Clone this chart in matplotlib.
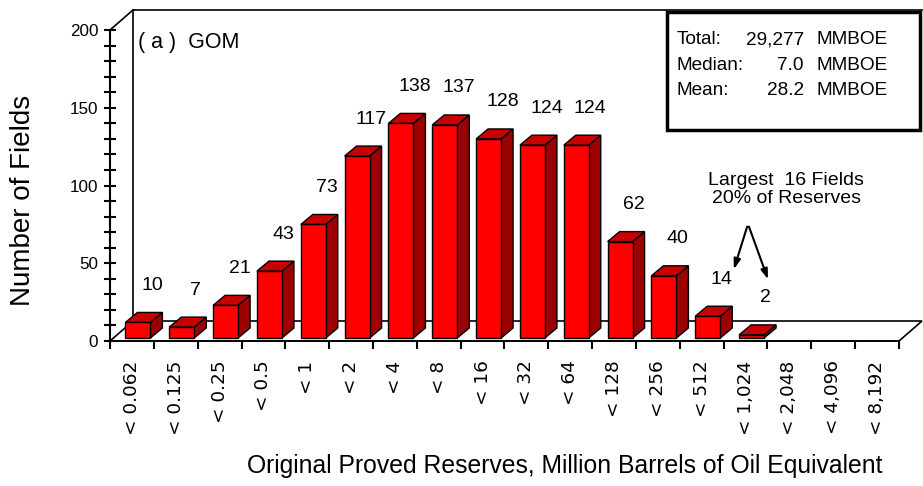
import matplotlib.pyplot as plt
from matplotlib.patches import Polygon, Rectangle

plt.rcParams['font.family'] = ['Liberation Sans', 'DejaVu Sans']

# Field size classes (upper bound, MMBOE) and number of fields in each
size_classes = ["< 0.062", "< 0.125", "< 0.25", "< 0.5", "< 1", "< 2", "< 4", "< 8",
                "< 16", "< 32", "< 64", "< 128", "< 256", "< 512", "< 1,024",
                "< 2,048", "< 4,096", "< 8,192"]
field_counts = [10, 7, 21, 43, 73, 117, 138, 137, 128, 124, 124, 62, 40, 14, 2, 0, 0, 0]

stats_names = ["Total:", "Median:", "Mean:"]
stats_values = ["29,277", "7.0", "28.2"]

W, H = 923, 486
fig = plt.figure(figsize=(W / 100, H / 100), dpi=100)
ax = fig.add_axes([110 / W, (H - 341) / H, 789 / W, 311 / H])
ncat = len(size_classes)
ax.set_xlim(0, ncat)
ax.set_ylim(0, 200)

# pixel -> data unit helpers for the fake 3-D depth
px_x = ncat / 789
px_y = 200 / 311

# floor and back wall
FX, FY = 23 * px_x, 20 * px_y
floor = Polygon([(0, 0), (ncat, 0), (ncat + FX, FY), (FX, FY)], closed=True,
                facecolor='white', edgecolor='black', lw=1.2, clip_on=False, zorder=1)
ax.add_patch(floor)
ax.plot([FX, FX], [FY, 200 + FY], color='black', lw=1.2, clip_on=False, zorder=1)
ax.plot([FX, ncat + FX], [200 + FY, 200 + FY], color='black', lw=1.2, clip_on=False, zorder=1)
ax.plot([0, FX], [200, 200 + FY], color='black', lw=1.2, clip_on=False, zorder=1)

# 3-D bars
bw = 25 * px_x
ox, oy = 6 * px_x, 3 * px_y
dx, dy = 12 * px_x, 10 * px_y
for k, v in enumerate(field_counts):
    if v == 0:
        continue
    x0 = k + 0.5 - bw / 2 + ox
    y0 = oy
    top = y0 + v
    front = Polygon([(x0, y0), (x0 + bw, y0), (x0 + bw, top), (x0, top)],
                    facecolor='#ff0000', edgecolor='black', lw=1.0, clip_on=False, zorder=3)
    side = Polygon([(x0 + bw, y0), (x0 + bw + dx, y0 + dy), (x0 + bw + dx, top + dy), (x0 + bw, top)],
                   facecolor='#9c0000', edgecolor='black', lw=1.0, clip_on=False, zorder=3)
    lid = Polygon([(x0, top), (x0 + bw, top), (x0 + bw + dx, top + dy), (x0 + dx, top + dy)],
                  facecolor='#c80000', edgecolor='black', lw=1.0, clip_on=False, zorder=3)
    for p in (side, lid, front):
        ax.add_patch(p)
    ax.text(x0 + bw / 2 + 14 * px_x, top + 37 * px_y, str(v), ha='center', va='center',
            fontsize=14, zorder=4)

# axes styling
for s in ('top', 'right'):
    ax.spines[s].set_visible(False)
ax.spines['left'].set_linewidth(1.5)
ax.spines['bottom'].set_linewidth(1.2)
ax.set_yticks(range(0, 201, 50))
ax.set_yticks(range(0, 201, 10), minor=True)
ax.tick_params(axis='y', which='both', direction='inout', length=9, width=1.5,
               labelsize=12.3, pad=4)
ax.set_xticks(range(ncat + 1))
ax.set_xticklabels([])
ax.set_xticks([k + 0.5 for k in range(ncat)], minor=True)
ax.set_xticklabels(size_classes, minor=True, rotation=90, fontsize=13.3, va='top',
                   family='DejaVu Sans')
ax.tick_params(axis='x', which='major', direction='out', length=6, width=1.5)
ax.tick_params(axis='x', which='minor', length=0, pad=14)
ax.patch.set_visible(False)

# panel tag
ax.text(0.64, (341 - 42) * px_y, "( a )  GOM", fontsize=15.5, ha='left', va='center')

# summary box
box = Rectangle((12.71, 135.7), 5.77, 75.8, facecolor='white', edgecolor='black',
                lw=2.5, clip_on=False, zorder=5)
ax.add_patch(box)
for i, (name, val) in enumerate(zip(stats_names, stats_values)):
    yy = (341 - 39.5 - i * 25.7) * px_y
    ax.text((677 - 110) * px_x, yy, name, fontsize=13.7, ha='left', va='center', zorder=6)
    ax.text((804 - 110) * px_x, yy, val, fontsize=13.7, ha='right', va='center', zorder=6)
    ax.text((817 - 110) * px_x, yy, "MMBOE", fontsize=13.7, ha='left', va='center', zorder=6)

# largest fields note
ax.text((786 - 110) * px_x, (341 - 189.5) * px_y, "Largest  16 Fields\n20% of Reserves",
        fontsize=14, ha='center', va='center', linespacing=1.1)
apex = ((748 - 110) * px_x, (341 - 224) * px_y)
ax.annotate("", xy=((733 - 110) * px_x, (341 - 272) * px_y), xytext=apex,
            arrowprops=dict(arrowstyle='-|>,head_length=0.6,head_width=0.2', color='black', lw=1.5),
            annotation_clip=False)
ax.annotate("", xy=((769 - 110) * px_x, (341 - 282) * px_y), xytext=apex,
            arrowprops=dict(arrowstyle='-|>,head_length=0.6,head_width=0.2', color='black', lw=1.5),
            annotation_clip=False)

fig.text(23 / W, 1 - 200 / H, "Number of Fields", rotation=90, fontsize=20,
         ha='center', va='center')
fig.text(565 / W, 1 - 466 / H, "Original Proved Reserves, Million Barrels of Oil Equivalent",
         fontsize=17.8, ha='center', va='center')

fig.savefig('out.png', dpi=100)
